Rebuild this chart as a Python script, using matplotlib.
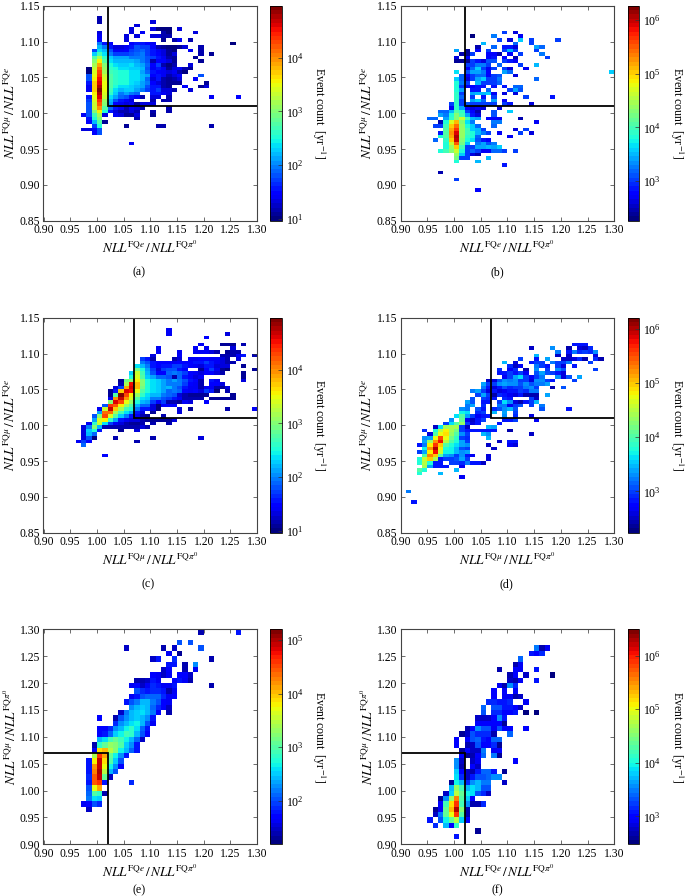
import numpy as np
import matplotlib
matplotlib.use('Agg')
import matplotlib.pyplot as plt
from matplotlib.colors import LogNorm
from matplotlib.ticker import FormatStrFormatter

plt.rcParams['font.family'] = ['Liberation Serif', 'DejaVu Serif']
plt.rcParams['mathtext.fontset'] = 'stix'

# rows are (bin lower y, first bin lower x, log10(count)*10 per 0.01 x bin), 0 is empty
rows_a = [
    (1.130, 1.00, [12]), (1.125, 1.00, [12]), (1.125, 1.10, [13]),
    (1.120, 1.07, [13]),
    (1.115, 1.06, [13, 0, 0, 0, 13, 10, 10, 10, 0, 13]),
    (1.110, 1.00, [13, 0, 0, 0, 0, 0, 13, 0, 14, 0, 0, 0, 12, 10]), (1.110, 1.18, [13]),
    (1.105, 1.00, [14, 0, 0, 0, 0, 13, 0, 13, 0, 0, 13, 13, 12, 12]),
    (1.100, 1.00, [15, 0, 0, 0, 0, 13, 0, 0, 0, 0, 0, 0, 11, 0, 12, 14, 0, 12]),
    (1.095, 1.00, [20, 16, 15, 0, 0, 0, 15, 16, 16, 15, 14]), (1.095, 1.25, [10]),
    (1.090, 1.00, [22, 20, 16, 13, 13, 14, 16, 18, 17, 17, 15, 12, 11, 10, 10, 11, 13, 0, 0, 12]),
    (1.085, 0.99, [17, 24, 22, 18, 14, 14, 15, 17, 18, 19, 17, 16, 14, 13, 11, 10, 0, 0, 14, 0, 12]),
    (1.080, 0.99, [23, 27, 24, 20, 17, 17, 17, 18, 19, 20, 17, 16, 15, 13, 11, 13, 0, 0, 0, 0, 12, 0, 11]),
    (1.075, 0.99, [28, 32, 26, 23, 21, 21, 21, 20, 20, 20, 18, 17, 16, 14, 12, 11, 0, 0, 0, 11]),
    (1.070, 0.99, [30, 36, 28, 24, 22, 22, 22, 22, 21, 20, 18, 12, 15, 15, 13, 11, 0, 0, 0, 0, 11]),
    (1.065, 0.99, [32, 39, 30, 25, 24, 23, 23, 24, 22, 21, 19, 15, 17, 12, 10, 12, 0, 0, 13]),
    (1.060, 0.98, [10, 33, 41, 31, 26, 25, 24, 24, 23, 23, 22, 18, 14, 16, 14, 11, 13, 14, 12, 11]),
    (1.055, 0.98, [10, 34, 43, 32, 27, 26, 25, 25, 24, 24, 21, 19, 16, 15, 14, 13, 14, 12, 10]),
    (1.050, 0.98, [18, 35, 44, 33, 28, 26, 25, 25, 24, 24, 22, 21, 15, 16, 14, 12, 13, 15, 0, 0, 0, 18]),
    (1.045, 0.98, [18, 36, 45, 34, 28, 26, 25, 25, 24, 24, 22, 19, 13, 16, 12, 11, 12, 13, 0, 0, 15]),
    (1.040, 0.98, [16, 37, 46, 35, 28, 26, 25, 25, 24, 23, 21, 20, 15, 13, 12, 11, 11, 11, 0, 0, 0, 0, 11]),
    (1.035, 0.98, [14, 37, 48, 35, 28, 25, 24, 24, 23, 22, 21, 18, 16, 16, 12, 11, 0, 0, 15, 0, 0, 11, 13]),
    (1.030, 0.98, [14, 37, 49, 35, 27, 24, 22, 23, 23, 21, 20, 17, 16, 17, 13, 13, 12, 0, 0, 13]),
    (1.025, 0.99, [36, 48, 34, 26, 23, 20, 21, 20, 19, 0, 0, 16, 16, 14, 13]),
    (1.020, 0.98, [16, 35, 46, 33, 24, 21, 19, 18, 16, 14, 12, 0, 13, 13, 0, 12]), (1.020, 1.21, [14, 0, 0, 0, 0, 15]),
    (1.015, 0.98, [17, 34, 44, 31, 22, 18, 16, 15, 13, 0, 0, 0, 12, 0, 12, 12]),
    (1.010, 0.98, [18, 33, 42, 30, 21, 15, 14, 13, 14, 11, 13, 13, 13]),
    (1.005, 0.98, [18, 33, 40, 28, 19, 16, 14, 12, 14, 13, 12, 0, 0, 0, 0, 12]),
    (1.000, 0.98, [18, 30, 36, 25, 16, 13, 12, 12, 13, 12, 0, 0, 12, 0, 0, 12]),
    (0.995, 0.97, [14, 18, 27, 32, 13, 0, 14, 13, 11, 11, 13, 0, 0, 11]),
    (0.990, 0.98, [16, 25, 30, 0, 0, 0, 0, 0, 0, 12]),
    (0.985, 0.98, [15, 22, 28, 11]),
    (0.980, 0.99, [17, 25, 0, 0, 0, 0, 11]), (0.980, 1.11, [12, 12]), (0.980, 1.21, [12]),
    (0.975, 0.97, [13, 13, 15, 18]),
    (0.970, 0.99, [15, 18]),
    (0.955, 1.06, [14]),
]

rows_b = [
    (1.110, 1.09, [30, 0, 26]),
    (1.105, 1.03, [23, 0, 0, 0, 33, 0, 0, 0, 0, 27]),
    (1.100, 1.08, [30, 0, 26, 0, 36, 0, 30]), (1.100, 1.19, [30]),
    (1.095, 1.05, [35, 0, 0, 0, 0, 0, 32, 0, 0, 30]),
    (1.090, 1.04, [25, 0, 0, 32, 0, 29, 29, 26, 0, 0, 0, 34, 32]),
    (1.085, 1.00, [34, 0, 24, 0, 28, 0, 30, 0, 0, 30, 35, 30, 0, 0, 0, 30]),
    (1.080, 1.01, [25, 24, 30, 0, 0, 28, 28, 25, 0, 28, 0, 30, 0, 0, 0, 33]),
    (1.075, 1.00, [26, 0, 28, 0, 0, 0, 28, 29, 0, 28, 0, 25, 0, 0, 0, 0, 0, 30]),
    (1.070, 1.00, [24, 24, 24, 30, 29, 26, 31, 31, 0, 30, 29, 27]),
    (1.065, 1.02, [30, 30, 33, 33, 30, 0, 32, 0, 0, 0, 30, 0, 0, 35]),
    (1.060, 1.02, [28, 32, 36, 30, 27, 30, 0, 30, 26, 0, 0, 27]),
    (1.055, 1.00, [37, 0, 31, 34, 34, 33, 28, 0, 0, 34, 32]), (1.055, 1.29, [36]),
    (1.050, 1.01, [32, 28, 30, 32, 32, 28, 30, 31, 0, 0, 26]),
    (1.045, 1.00, [36, 32, 26, 30, 34, 36, 30, 30, 33, 0, 0, 0, 0, 0, 0, 32]),
    (1.040, 1.00, [38, 33, 30, 0, 35, 30, 30, 30, 32]),
    (1.035, 1.00, [38, 30, 27, 28, 29, 29, 0, 29, 0, 29, 0, 32, 32]),
    (1.030, 1.00, [38, 34, 0, 29, 29, 0, 32, 0, 0, 0, 30, 34, 31]),
    (1.025, 1.00, [39, 30, 0, 34, 35, 35, 36, 27, 0, 26, 0, 26]),
    (1.020, 1.00, [39, 32, 0, 30, 0, 29, 0, 30, 0, 0, 0, 0, 0, 30, 0, 0, 0, 0, 29]),
    (1.015, 1.00, [39, 30, 0, 34, 36, 32, 0, 34, 0, 28]),
    (1.010, 0.99, [30, 39, 30, 31, 30, 30, 30, 30, 30, 0, 30, 29, 0, 0, 0, 26]),
    (1.005, 0.99, [27, 39, 34, 28, 26, 27, 26, 0, 0, 26]),
    (1.000, 0.97, [32, 32, 35, 41, 39, 30, 28, 25, 0, 0, 31, 0, 0, 36]),
    (0.995, 0.97, [34, 33, 38, 43, 40, 34, 29, 26, 0, 0, 31]),
    (0.990, 0.95, [32, 32, 0, 34, 39, 43, 46, 40, 35, 34, 0, 28, 28, 27, 0, 0, 0, 25]),
    (0.985, 0.97, [25, 38, 47, 51, 43, 37, 33, 0, 0, 0, 33, 33]), (0.985, 1.15, [27]),
    (0.980, 0.96, [30, 30, 40, 50, 54, 44, 38, 36, 32, 0, 0, 32]),
    (0.975, 0.98, [41, 52, 57, 44, 40, 36, 35, 30, 0, 0, 0, 0, 0, 26, 0, 30]),
    (0.970, 0.97, [29, 41, 53, 59, 44, 40, 38, 35, 33, 30, 0, 27, 0, 0, 0, 30, 0, 26]),
    (0.965, 0.97, [38, 41, 52, 61, 44, 39, 38, 32, 0, 0, 0, 0, 0, 27]),
    (0.960, 0.96, [32, 0, 39, 50, 60, 43, 38, 37, 31, 29, 28]),
    (0.955, 0.98, [38, 46, 55, 42, 36, 0, 33, 34, 31, 33]),
    (0.950, 0.98, [38, 44, 50, 40, 30, 30, 34, 34, 35, 34, 36]),
    (0.945, 0.97, [38, 40, 43, 46, 38, 30, 32, 30, 27, 27, 32, 32, 30, 0, 30]),
    (0.940, 1.00, [44, 36, 30, 26, 25]),
    (0.935, 1.00, [42, 30, 30, 0, 0, 0, 35]),
    (0.930, 1.00, [38, 0, 0, 0, 35]),
    (0.925, 1.09, [29]),
    (0.915, 0.97, [25]),
    (0.905, 1.00, [30]),
    (0.890, 1.04, [28]),
]

rows_c = [
    (1.130, 1.13, [14]),
    (1.125, 1.13, [14]), (1.125, 1.24, [13]),
    (1.120, 1.20, [15]),
    (1.110, 1.19, [14, 0, 0, 0, 11, 11, 11, 0, 12]),
    (1.105, 1.11, [14, 0, 0, 0, 0, 0, 0, 14, 0, 14, 0, 0, 0, 0, 13]),
    (1.100, 1.11, [14, 0, 0, 0, 14, 0, 0, 14, 14, 14, 13, 12, 0, 11, 12, 12]),
    (1.095, 1.10, [13, 0, 0, 0, 0, 14, 0, 0, 0, 0, 0, 0, 0, 12, 12, 12, 14, 16, 0, 12]),
    (1.090, 1.08, [17, 16, 12, 0, 0, 0, 12, 13, 0, 14, 14, 15, 15, 14, 14, 13, 12, 0, 13]),
    (1.085, 1.08, [20, 18, 16, 15, 15, 15, 14, 15, 15, 15, 16, 16, 17, 16, 14, 13, 12, 12]),
    (1.080, 1.07, [24, 22, 20, 16, 15, 16, 16, 17, 17, 16, 15, 14, 13, 16, 16, 13, 13, 13, 0, 0, 11]),
    (1.075, 1.07, [29, 25, 21, 17, 13, 17, 18, 18, 16, 15, 0, 0, 11, 15, 17, 14, 11, 10]), (1.075, 1.29, [11]),
    (1.070, 1.06, [23, 33, 27, 22, 18, 15, 15, 19, 20, 19, 17, 15, 14, 13, 15, 15, 13, 12, 0, 0, 0, 11]),
    (1.065, 1.06, [25, 34, 28, 23, 21, 19, 19, 18, 12, 19, 16, 15, 13, 14, 0, 0, 0, 0, 0, 0, 0, 11]),
    (1.060, 1.04, [11, 29, 30, 36, 30, 25, 24, 23, 21, 20, 21, 20, 18, 16, 15, 12, 0, 16, 14, 0, 0, 0, 0, 13]),
    (1.055, 1.04, [12, 32, 45, 38, 30, 25, 24, 23, 21, 20, 20, 20, 17, 15, 14, 12, 0, 15, 15, 13]),
    (1.050, 1.03, [13, 17, 39, 46, 38, 29, 25, 24, 23, 21, 22, 20, 18, 16, 14, 14, 12, 14, 14, 12, 11, 13]),
    (1.045, 1.02, [11, 16, 37, 46, 45, 35, 28, 25, 24, 23, 21, 19, 20, 19, 15, 14, 15, 13, 17, 16, 10, 0, 12]),
    (1.040, 1.02, [11, 28, 49, 43, 36, 31, 26, 24, 22, 22, 20, 19, 18, 13, 12, 11, 11, 11, 11, 0, 0, 0, 0, 11]),
    (1.035, 1.02, [14, 40, 47, 40, 34, 28, 24, 23, 20, 20, 18, 17, 16, 14, 12, 12, 12, 12, 0, 11, 11, 11, 11, 11]),
    (1.030, 1.02, [30, 46, 43, 35, 31, 25, 22, 21, 17, 15, 17, 12, 12, 11, 14, 13, 0, 0, 15]),
    (1.025, 1.01, [18, 44, 42, 36, 31, 28, 22, 19, 19, 13, 10, 15, 15, 15]),
    (1.020, 1.00, [14, 33, 47, 37, 32, 27, 25, 20, 16, 16, 13, 10, 0, 0, 0, 13, 0, 11]), (1.020, 1.24, [12, 0, 0, 0, 0, 14]),
    (1.015, 1.00, [21, 41, 41, 32, 27, 24, 21, 16, 13, 0, 11, 0, 0, 0, 0, 13]),
    (1.010, 0.99, [18, 30, 43, 34, 28, 23, 20, 16, 14, 12, 11, 0, 0, 12]),
    (1.005, 0.99, [21, 34, 36, 26, 21, 16, 14, 13, 13, 12, 11, 11, 11, 11, 11, 13]),
    (1.000, 0.98, [14, 26, 33, 24, 17, 14, 13, 12, 11, 11, 12, 0, 12, 0, 0, 12]),
    (0.995, 0.97, [13, 20, 30, 22, 12, 12, 12, 12, 12, 12, 12, 13, 12]),
    (0.990, 0.97, [13, 23, 25, 16, 0, 0, 0, 11, 0, 0, 13]),
    (0.985, 0.97, [13, 22, 19]),
    (0.980, 0.97, [13, 18, 10, 0, 0, 0, 12, 0, 0, 0, 0, 0, 0, 12]), (0.980, 1.19, [13]),
    (0.975, 0.96, [14, 17, 15]), (0.975, 1.07, [12]),
    (0.970, 0.97, [19]),
    (0.955, 1.01, [15]),
]

rows_d = [
    (1.110, 1.22, [28, 28, 28]),
    (1.105, 1.14, [25, 0, 0, 0, 33, 0, 0, 24, 0, 26, 25, 29]),
    (1.100, 1.19, [32, 0, 28, 32, 29, 30, 29, 33]),
    (1.095, 1.15, [35, 0, 0, 0, 25, 0, 25, 0, 0, 0, 0, 26]),
    (1.090, 1.12, [30, 0, 0, 28, 0, 34, 0, 0, 25, 25, 26, 29, 24, 0, 29, 24]),
    (1.085, 1.09, [35, 0, 26, 0, 0, 28, 30, 30, 0, 32, 30, 30, 32, 0, 0, 0, 30]),
    (1.080, 1.10, [29, 25, 27, 0, 0, 32, 30, 28, 0, 30, 26, 0, 28]),
    (1.075, 1.08, [29, 0, 27, 29, 0, 24, 0, 33, 0, 30, 0, 33, 31, 0, 0, 0, 0, 0, 30]),
    (1.070, 1.08, [28, 28, 30, 28, 30, 27, 0, 31, 34, 31, 30, 28, 26]),
    (1.065, 1.09, [27, 30, 34, 36, 30, 27, 30, 32, 0, 0, 33, 26, 31, 0, 34]),
    (1.060, 1.06, [25, 26, 31, 33, 32, 33, 30, 30, 26, 33, 33, 30, 28, 0, 0, 0, 30]),
    (1.055, 1.05, [34, 30, 30, 33, 34, 33, 33, 31, 33, 31, 32, 32, 34]),
    (1.050, 1.05, [32, 28, 26, 28, 31, 29, 30, 30, 32, 33, 30, 0, 0, 24, 0, 31]),
    (1.045, 1.03, [32, 34, 30, 26, 28, 26, 27, 28, 28, 30, 29, 32, 32]),
    (1.040, 1.04, [30, 34, 30, 24, 29, 28, 27, 26, 28, 24, 24, 24, 0, 34]),
    (1.035, 1.03, [31, 0, 30, 29, 28, 0, 29, 28, 0, 0, 0, 30, 25]),
    (1.030, 1.02, [34, 31, 0, 28, 28, 0, 30, 36, 33, 26, 24, 28, 30, 35]),
    (1.025, 1.02, [32, 34, 0, 29, 0, 0, 32, 32, 27, 30, 31, 0, 30, 0, 32]),
    (1.020, 1.01, [33, 32, 0, 31, 28, 0, 29, 31, 33, 35, 31, 0, 0, 0, 0, 31]), (1.020, 1.21, [28]),
    (1.015, 1.01, [37, 36, 0, 29, 30, 0, 35, 0, 34, 0, 30]),
    (1.010, 1.00, [36, 40, 34, 30, 27, 28, 28, 0, 0, 33, 0, 29, 0, 0, 26]),
    (1.005, 0.99, [33, 0, 41, 27, 25, 28, 30, 0, 0, 0, 28, 28, 30, 0, 0, 0, 27]),
    (1.000, 0.98, [30, 36, 40, 43, 30, 26, 28, 0, 0, 0, 28]),
    (0.995, 0.96, [25, 36, 44, 44, 44, 30, 25, 0, 0, 0, 35, 34]),
    (0.990, 0.94, [29, 0, 38, 45, 48, 44, 42, 30, 28, 28, 28, 28, 28, 28, 0, 0, 24]),
    (0.985, 0.95, [26, 40, 47, 49, 43, 40, 33, 30, 0, 0, 35, 33]), (0.985, 1.14, [25]),
    (0.980, 0.94, [33, 34, 47, 55, 47, 42, 39, 30, 29, 0, 0, 0, 35]),
    (0.975, 0.94, [34, 43, 52, 58, 45, 40, 38, 34, 30, 0, 0, 0, 0, 0, 25, 0, 28, 28]),
    (0.970, 0.93, [28, 32, 48, 56, 50, 40, 38, 36, 34, 33, 0, 0, 0, 25, 0, 0, 0, 27, 26]),
    (0.965, 0.94, [37, 52, 60, 48, 38, 37, 35, 31, 30, 0, 0, 0, 0, 25]),
    (0.960, 0.93, [30, 34, 48, 58, 46, 37, 37, 35, 33, 34]),
    (0.955, 0.94, [40, 53, 50, 40, 34, 33, 30, 33, 28, 27, 0, 0, 26]),
    (0.950, 0.93, [38, 46, 50, 44, 28, 30, 30, 31, 34, 30, 0, 0, 0, 26]),
    (0.945, 0.93, [38, 45, 38, 28, 28, 0, 30, 30, 29, 32, 28, 28, 25]),
    (0.940, 0.94, [44, 34, 28, 28, 28, 0, 0, 27]),
    (0.935, 0.93, [40, 38, 0, 0, 0, 0, 0, 35]),
    (0.930, 0.93, [38, 0, 0, 0, 35]),
    (0.925, 1.01, [27]),
    (0.905, 0.91, [32]),
    (0.890, 0.92, [28]),
]

rows_e = [
    (1.29, 1.19, [14]), (1.29, 1.26, [18]),
    (1.27, 1.15, [20, 0, 20]),
    (1.26, 1.05, [15]), (1.26, 1.12, [14, 0, 15]), (1.26, 1.19, [20]),
    (1.25, 1.13, [16, 0, 13]),
    (1.24, 1.10, [15, 18, 0, 0, 19]), (1.24, 1.21, [14]),
    (1.23, 1.13, [18, 18, 0, 14, 0, 23]),
    (1.22, 1.12, [15, 17, 0, 0, 14, 0, 16]),
    (1.21, 1.10, [17, 16, 15, 16, 0, 17, 17, 15]),
    (1.20, 1.07, [14, 14, 15, 18, 16, 0, 0, 17, 18, 16, 14]),
    (1.19, 1.06, [16, 17, 15, 16, 19, 18, 16, 16, 18]), (1.19, 1.21, [14]),
    (1.18, 1.07, [20, 19, 18, 19, 19, 18, 14, 16]),
    (1.17, 1.06, [16, 18, 20, 21, 21, 21, 19, 16, 17]),
    (1.16, 1.05, [18, 20, 22, 24, 24, 22, 20, 17, 16]),
    (1.15, 1.06, [23, 24, 25, 24, 21, 19, 17, 15]),
    (1.14, 1.04, [15, 22, 24, 25, 26, 24, 22, 17, 0, 14]),
    (1.13, 1.00, [17, 0, 0, 14, 20, 23, 24, 25, 24, 23, 18]),
    (1.12, 1.03, [19, 23, 24, 26, 27, 24, 20, 16]),
    (1.11, 1.00, [17, 17, 19, 23, 24, 27, 28, 26, 21, 18]),
    (1.10, 1.00, [17, 18, 21, 25, 27, 29, 28, 24, 20, 17]),
    (1.09, 1.00, [24, 26, 29, 31, 29, 27, 24, 21, 15]),
    (1.08, 0.99, [14, 28, 31, 33, 32, 30, 25, 23, 18]),
    (1.07, 0.99, [16, 39, 40, 35, 32, 27, 24, 21, 18]),
    (1.06, 0.99, [34, 46, 41, 31, 27, 23, 18]),
    (1.05, 0.98, [18, 38, 49, 39, 30, 25, 20]),
    (1.04, 0.98, [18, 42, 49, 37, 27, 23, 17]),
    (1.03, 0.98, [18, 43, 50, 35, 24, 20]),
    (1.02, 0.98, [19, 44, 49, 31, 15]),
    (1.01, 0.98, [18, 44, 46, 18]), (1.01, 1.06, [19]),
    (1.00, 0.98, [20, 37, 41]),
    (0.99, 0.98, [21, 30, 28, 14]),
    (0.98, 0.98, [22, 26, 25]),
    (0.97, 0.97, [16, 17, 20, 19]),
    (0.96, 0.98, [15]),
]

rows_f = [
    (1.26, 1.15, [35, 27, 29]),
    (1.25, 1.14, [31, 30, 32]),
    (1.24, 1.12, [34]),
    (1.23, 1.11, [27, 29]),
    (1.22, 1.08, [27, 0, 0, 30, 29, 0, 0, 31]),
    (1.21, 1.10, [27, 30, 0, 28]), (1.21, 1.18, [25]),
    (1.20, 1.10, [28, 27, 29, 0, 0, 31]),
    (1.19, 1.08, [29, 27, 36, 32]),
    (1.18, 1.07, [30, 0, 30, 0, 30]),
    (1.17, 1.07, [30, 0, 29, 29, 27, 28]),
    (1.16, 1.06, [32, 32, 31, 31, 32, 0, 0, 29]),
    (1.15, 1.05, [34, 0, 33, 33, 31, 31, 30, 28]),
    (1.14, 1.05, [33, 0, 32, 32, 30, 30, 31, 0, 25, 0, 25]),
    (1.13, 1.04, [28, 28, 28, 30, 36, 31]),
    (1.12, 1.04, [30, 30, 30, 30, 30, 26]),
    (1.11, 1.02, [27, 30, 36, 33, 33, 29, 33, 30, 30, 0, 0, 30]),
    (1.10, 1.01, [26, 28, 33, 32, 32, 32, 27, 0, 0, 34]),
    (1.09, 1.00, [30, 0, 30, 33, 34, 31, 30, 34, 34]),
    (1.08, 1.00, [30, 0, 27, 28, 33, 30, 30, 32, 26]),
    (1.07, 1.01, [26, 30, 28, 28, 35, 0, 29, 30]),
    (1.06, 1.01, [30, 26, 27, 30, 34, 0, 35, 26]),
    (1.05, 1.00, [36, 28, 0, 28, 29]), (1.05, 1.11, [30]),
    (1.04, 1.00, [36, 27, 0, 30, 28]),
    (1.03, 1.00, [38, 30, 28, 27, 31, 34, 34, 31, 0, 26]),
    (1.02, 1.00, [39, 32, 28, 31, 33, 33, 34, 36, 36]),
    (1.01, 0.99, [26, 40, 37, 32, 36, 37, 35, 35, 0, 0, 28]),
    (1.00, 0.99, [37, 46, 42, 37, 39, 37, 33, 33]),
    (0.99, 0.98, [28, 38, 48, 44, 40, 39, 33, 32, 28]),
    (0.98, 0.97, [26, 36, 46, 56, 43, 38, 30]),
    (0.97, 0.97, [30, 42, 52, 59, 42, 36, 27, 27, 32]),
    (0.96, 0.96, [26, 30, 44, 53, 63, 45, 27]),
    (0.95, 0.96, [28, 35, 44, 50, 59, 43, 27]),
    (0.94, 0.95, [31, 0, 33, 40, 44, 48, 38, 30]),
    (0.93, 0.96, [32, 0, 37, 30, 41]),
    (0.92, 1.04, [26]),
    (0.91, 1.00, [31]),
]

label_e = r'$NLL^{\mathrm{FQ}e}\,/\,NLL^{\mathrm{FQ}\pi^0}$'
label_mu = r'$NLL^{\mathrm{FQ}\mu}\,/\,NLL^{\mathrm{FQ}\pi^0}$'
label_mue = r'$NLL^{\mathrm{FQ}\mu}\,/\,NLL^{\mathrm{FQ}e}$'

W, H = 685.0, 896.0
LEFT = [43.5, 400.7]
CBAR = [270.0, 627.7]
CBAR_W = 11.5
AX_W = 213.5
AX_H = 215.0
TOPS = [5.7, 317.7, 629.3]

panels = [
    # rows, column, row, xlabel, ylabel, cbar limits (log10), cbar ticks, cut path, caption, caption x, caption y
    (rows_a, 0, 0, label_e, label_mue, (0.96, 4.97), [1, 2, 3, 4], ([1.02, 1.02, 1.30], [1.15, 1.01, 1.01]), '(a)', 139, 272),
    (rows_b, 1, 0, label_e, label_mue, (2.26, 6.27), [3, 4, 5, 6], ([1.02, 1.02, 1.30], [1.15, 1.01, 1.01]), '(b)', 497, 272),
    (rows_c, 0, 1, label_mu, label_mue, (0.96, 4.97), [1, 2, 3, 4], ([1.07, 1.07, 1.30], [1.15, 1.01, 1.01]), '(c)', 148, 584),
    (rows_d, 1, 1, label_mu, label_mue, (2.24, 6.20), [3, 4, 5, 6], ([1.07, 1.07, 1.30], [1.15, 1.01, 1.01]), '(d)', 506, 584),
    (rows_e, 0, 2, label_e, label_mu, (1.19, 5.20), [2, 3, 4, 5], ([0.90, 1.02, 1.02], [1.07, 1.07, 0.90]), '(e)', 139, 890),
    (rows_f, 1, 2, label_e, label_mu, (2.48, 6.49), [3, 4, 5, 6], ([0.90, 1.02, 1.02], [1.07, 1.07, 0.90]), '(f)', 497, 890),
]

fig = plt.figure(figsize=(6.85, 8.96), dpi=100)
cmap = plt.get_cmap('jet', 50)


def makeGrid(rows, tall):
    xedges = np.arange(0, 41) * 0.01 + 0.90
    if tall:
        yedges = np.arange(0, 41) * 0.01 + 0.90
    else:
        yedges = np.arange(0, 61) * 0.005 + 0.85
    grid = np.full((len(yedges) - 1, len(xedges) - 1), np.nan)
    ystep = yedges[1] - yedges[0]
    for y, x0, vals in rows:
        r = int(round((y - yedges[0]) / ystep))
        c0 = int(round((x0 - 0.90) / 0.01))
        for i, v in enumerate(vals):
            if v > 0 and c0 + i < grid.shape[1]:
                grid[r, c0 + i] = 10 ** (v / 10.0)
    return xedges, yedges, np.ma.masked_invalid(grid)


for rows, col, row, xlab, ylab, lims, cticks, cut, caption, capx, capy in panels:
    top = TOPS[row]
    ax = fig.add_axes([LEFT[col] / W, 1 - (top + AX_H) / H, AX_W / W, AX_H / H])
    tall = row == 2
    xedges, yedges, grid = makeGrid(rows, tall)
    norm = LogNorm(vmin=10 ** lims[0], vmax=10 ** lims[1])
    mesh = ax.pcolormesh(xedges, yedges, grid, cmap=cmap, norm=norm, antialiased=False)
    ax.plot(cut[0], cut[1], color='black', lw=1.3, solid_joinstyle='miter')
    ax.set_xlim(0.90, 1.30)
    ax.set_ylim((0.90, 1.30) if tall else (0.85, 1.15))
    ax.set_xticks(np.arange(0, 9) * 0.05 + 0.90)
    if tall:
        ax.set_yticks(np.arange(0, 9) * 0.05 + 0.90)
    else:
        ax.set_yticks(np.arange(0, 7) * 0.05 + 0.85)
    ax.xaxis.set_major_formatter(FormatStrFormatter('%.2f'))
    ax.yaxis.set_major_formatter(FormatStrFormatter('%.2f'))
    ax.tick_params(direction='in', top=True, right=True, length=3, width=0.5, labelsize=8.4, pad=2.5, color='#333333')
    for s in ax.spines.values():
        s.set_linewidth(0.8)
        s.set_color('#444444')
    ax.set_xlabel(xlab, fontsize=9.5, va='center')
    ax.set_ylabel(ylab, fontsize=9.5, va='center')
    ax.xaxis.set_label_coords(0.5, -27.0 / AX_H)
    ax.yaxis.set_label_coords(-33.0 / AX_W, 0.5)

    cax = fig.add_axes([CBAR[col] / W, 1 - (top + AX_H) / H, CBAR_W / W, AX_H / H])
    cb = fig.colorbar(mesh, cax=cax)
    cb.set_ticks([10.0 ** t for t in cticks])
    cb.ax.minorticks_off()
    cb.ax.tick_params(direction='in', length=3, width=0.5, labelsize=8.6, pad=3, color='#333333')
    cb.outline.set_linewidth(0.6)
    cb.set_label(r'Event count  [yr$^{-1}$]', rotation=270, fontsize=8.6, labelpad=17)

    fig.text(capx / W, 1 - capy / H, caption, ha='center', va='center', fontsize=8.6)

plt.savefig('out.png', dpi=100)
plt.close()
